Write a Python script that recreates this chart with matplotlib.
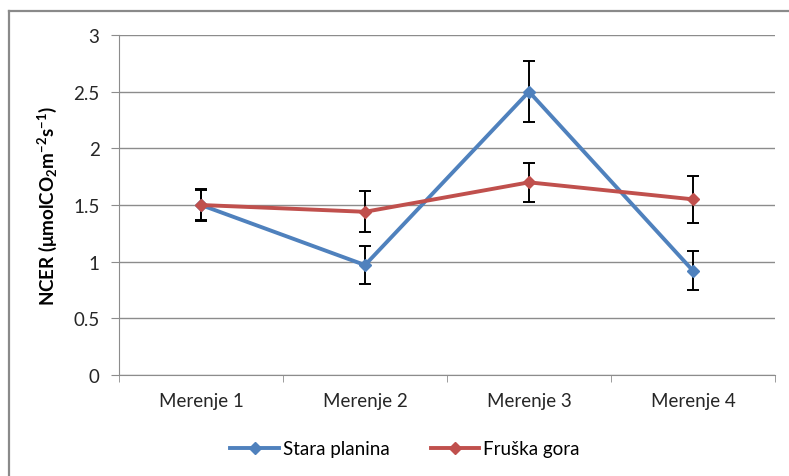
import matplotlib.pyplot as plt
from matplotlib.lines import Line2D

categories = ['Merenje 1', 'Merenje 2', 'Merenje 3', 'Merenje 4']
stara = [1.50, 0.97, 2.50, 0.92]
stara_err = [0.14, 0.165, 0.27, 0.17]
fruska = [1.50, 1.44, 1.70, 1.55]
fruska_err = [0.13, 0.18, 0.17, 0.21]
yticks = [0, 0.5, 1, 1.5, 2, 2.5, 3]
ytick_labels = ['0', '0.5', '1', '1.5', '2', '2.5', '3']

blue = '#4F81BD'
red = '#C0504D'
grid_col = '#8C8C8C'
fs = 13.5

plt.rcParams['font.family'] = ['Lato', 'DejaVu Sans']
plt.rcParams['mathtext.fontset'] = 'custom'
plt.rcParams['mathtext.rm'] = 'Lato'
plt.rcParams['mathtext.bf'] = 'Lato:bold'

fig = plt.figure(figsize=(7.89, 4.77), dpi=100)
ax = fig.add_axes([119 / 789, 1 - 376 / 477, 656 / 789, 340 / 477])

x = list(range(len(categories)))

ax.errorbar(x, stara, yerr=stara_err, fmt='none', ecolor='black',
            elinewidth=1.4, capsize=4, capthick=1.4, zorder=3)
ax.errorbar(x, fruska, yerr=fruska_err, fmt='none', ecolor='black',
            elinewidth=1.4, capsize=4, capthick=1.4, zorder=3)
ax.plot(x, stara, color=blue, lw=2.8, marker='D', ms=6, mec=blue, zorder=4,
        label='Stara planina')
ax.plot(x, fruska, color=red, lw=2.8, marker='D', ms=6, mec=red, zorder=4,
        label='Fruška gora')

ax.set_xlim(-0.5, len(categories) - 0.5)
ax.set_ylim(0, 3)
ax.set_yticks(yticks)
ax.set_yticklabels(ytick_labels, fontsize=fs, color='#262626')
ax.set_xticks(x)
ax.set_xticklabels(categories, fontsize=fs, color='#262626')
ax.tick_params(axis='x', length=0, pad=12)
ax.tick_params(axis='y', length=6, color=grid_col, pad=8)
# category separators on the x axis
ax.set_xticks([i - 0.5 for i in range(len(categories) + 1)], minor=True)
ax.tick_params(axis='x', which='minor', length=5, color=grid_col)

ax.grid(axis='y', color=grid_col, lw=1)
ax.set_axisbelow(True)
for side in ['top', 'right']:
    ax.spines[side].set_visible(False)
for side in ['left', 'bottom']:
    ax.spines[side].set_color(grid_col)

ax.set_ylabel(r'NCER (μmolCO$\mathbf{_2}$m$\mathbf{^{-2}}$s$\mathbf{^{-1}}$)',
              fontsize=fs, fontweight='bold', labelpad=10)

handles = [Line2D([], [], color=blue, lw=2.8, marker='D', ms=6),
           Line2D([], [], color=red, lw=2.8, marker='D', ms=6)]
fig.legend(handles, ['Stara planina', 'Fruška gora'], loc='center',
           bbox_to_anchor=(405 / 789, 1 - 450 / 477), ncol=2, frameon=False,
           fontsize=fs, handlelength=2.6, columnspacing=2.2, handletextpad=0.2)

# outer chart border (left and top edges are visible)
fig.add_artist(Line2D([9 / 789, 9 / 789], [0, 1 - 12 / 477],
                      transform=fig.transFigure, color='#8A8A8A', lw=1.6))
fig.add_artist(Line2D([9 / 789, 1], [1 - 12 / 477, 1 - 12 / 477],
                      transform=fig.transFigure, color='#8A8A8A', lw=1.6))

fig.savefig('out.png', dpi=100)
